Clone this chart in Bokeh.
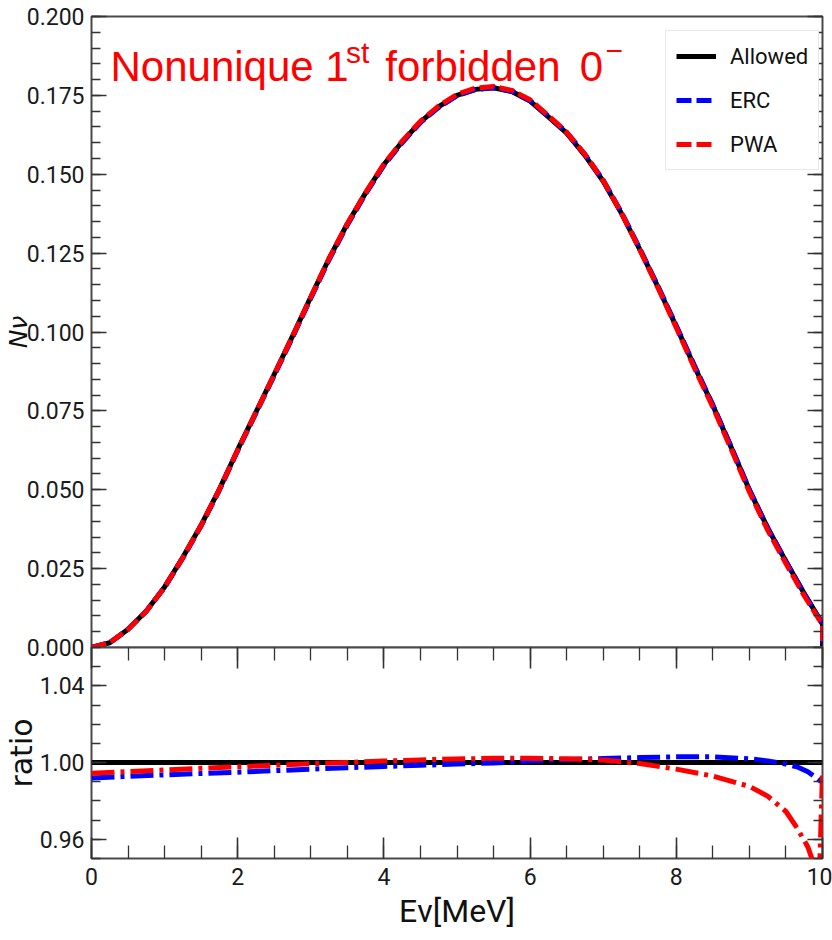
import numpy as np
from bokeh.plotting import figure
from bokeh.models import (Range1d, LinearAxis, FixedTicker, Legend, LegendItem,
                          Label, PrintfTickFormatter)
from bokeh.layouts import column
from bokeh.embed import file_html
from bokeh.resources import INLINE

# ---------------- data ----------------
energy = [0.0, 0.25, 0.5, 0.75, 1.0, 1.25, 1.5, 1.75, 2.0, 2.25, 2.5, 2.75,
          3.0, 3.25, 3.5, 3.75, 4.0, 4.25, 4.5, 4.75, 5.0, 5.25, 5.5, 5.75,
          6.0, 6.25, 6.5, 6.75, 7.0, 7.25, 7.5, 7.75, 8.0, 8.25, 8.5, 8.75,
          9.0, 9.25, 9.5, 9.75, 10.0, 10.0]
allowed = [0.0000, 0.0015, 0.0058, 0.0116, 0.0192, 0.0286, 0.0388, 0.0502,
           0.0627, 0.0746, 0.0866, 0.0987, 0.1111, 0.1233, 0.1343, 0.1441,
           0.1531, 0.1603, 0.1666, 0.1714, 0.1750, 0.1769, 0.1774, 0.1762,
           0.1732, 0.1682, 0.1630, 0.1560, 0.1478, 0.1376, 0.1262, 0.1142,
           0.1017, 0.0890, 0.0767, 0.0635, 0.0499, 0.0379, 0.0273, 0.0171,
           0.0075, 0.0]
erc = [0.0000, 0.0015, 0.0058, 0.0115, 0.0191, 0.0284, 0.0386, 0.0499,
       0.0624, 0.0743, 0.0862, 0.0983, 0.1107, 0.1229, 0.1339, 0.1438,
       0.1528, 0.1600, 0.1664, 0.1712, 0.1749, 0.1768, 0.1774, 0.1763,
       0.1733, 0.1684, 0.1633, 0.1563, 0.1481, 0.1379, 0.1265, 0.1145,
       0.1020, 0.0893, 0.0769, 0.0637, 0.0500, 0.0379, 0.0273, 0.0170,
       0.0074, 0.0]
pwa = [0.0000, 0.0015, 0.0058, 0.0115, 0.0191, 0.0285, 0.0387, 0.0501,
       0.0626, 0.0745, 0.0865, 0.0986, 0.1110, 0.1233, 0.1343, 0.1442,
       0.1532, 0.1605, 0.1668, 0.1717, 0.1753, 0.1773, 0.1778, 0.1766,
       0.1736, 0.1686, 0.1633, 0.1563, 0.1480, 0.1377, 0.1261, 0.1140,
       0.1014, 0.0885, 0.0762, 0.0629, 0.0493, 0.0372, 0.0266, 0.0164,
       0.0072, 0.0]

ratio_energy = [0.0, 0.5, 1.0, 1.5, 2.0, 2.5, 3.0, 3.5, 4.0, 4.5, 5.0, 5.5,
                6.0, 6.5, 7.0, 7.5, 8.0, 8.5, 9.0, 9.25, 9.5, 9.65, 9.8, 9.9,
                9.95, 10.0]
ratio_allowed = [1.0, 1.0, 1.0, 1.0, 1.0, 1.0, 1.0, 1.0, 1.0, 1.0, 1.0, 1.0,
                 1.0, 1.0, 1.0, 1.0, 1.0, 1.0, 1.0, 1.0, 1.0, 1.0, 1.0, 1.0,
                 1.0, 1.0]
ratio_erc = [0.9920, 0.9928, 0.9936, 0.9943, 0.9950, 0.9958, 0.9966, 0.9973,
             0.9980, 0.9986, 0.9992, 0.9998, 1.0008, 1.0016, 1.0021, 1.0026,
             1.0030, 1.0030, 1.0020, 1.0009, 0.9992, 0.9978, 0.9952, 0.9925,
             0.9910, 0.9895]
ratio_pwa = [0.9944, 0.9953, 0.9962, 0.9970, 0.9978, 0.9986, 0.9994, 1.0001,
             1.0008, 1.0014, 1.0019, 1.0022, 1.0023, 1.0020, 1.0013, 0.9995,
             0.9966, 0.9930, 0.9876, 0.9825, 0.9745, 0.9660, 0.9560, 0.9450,
             0.9300, 0.9950]

x_ticks = [0, 2, 4, 6, 8, 10]
top_y_ticks = [0.0, 0.025, 0.05, 0.075, 0.1, 0.125, 0.15, 0.175, 0.2]
bottom_y_ticks = [0.96, 1.00, 1.04]
series_labels = ["Allowed", "ERC", "PWA"]

# ---------------- style ----------------
TICK_FONT = "Roboto"
SPINE = "#4a4a4a"
TICKC = "#333333"
INK = "#111111"


def style_axis(ax, ticks, major_len, minor_len, show_labels, standoff=7):
    ax.axis_line_color = None
    ax.major_tick_in = major_len
    ax.major_tick_out = 0
    ax.minor_tick_in = minor_len
    ax.minor_tick_out = 0
    ax.major_tick_line_color = TICKC
    ax.major_tick_line_width = 1.6
    ax.minor_tick_line_color = TICKC
    ax.minor_tick_line_width = 1.3
    ax.major_label_text_font = TICK_FONT
    ax.major_label_text_color = "#1a1a1a"
    if show_labels:
        ax.major_label_text_font_size = "23px"
        ax.major_label_standoff = standoff
    else:
        ax.major_label_overrides = {float(t): "" for t in ticks}
        ax.major_label_text_font_size = "1px"
        ax.major_label_standoff = 0


x_minor = list(np.arange(0, 10.01, 0.5))
top_minor = list(np.arange(0, 0.2001, 0.005))
bot_minor = list(np.arange(0.95, 1.0601, 0.01))

# ---------------- top panel ----------------
p1 = figure(width=832, height=659, x_range=Range1d(0, 10), y_range=Range1d(0, 0.2),
            output_backend="svg", toolbar_location=None, x_axis_location=None,
            min_border_left=91, min_border_right=10, min_border_top=16,
            min_border_bottom=12)
p1.grid.visible = False
p1.outline_line_color = SPINE
p1.outline_line_width = 2
p1.background_fill_color = "white"
p1.border_fill_color = "white"

yl = p1.yaxis[0]
yl.ticker = FixedTicker(ticks=top_y_ticks, minor_ticks=top_minor)
yl.formatter = PrintfTickFormatter(format="%.3f")
style_axis(yl, top_y_ticks, 15, 9, True, 7)
yl.axis_label = "N\u03bd"
yl.axis_label_text_font = "DejaVu Sans"
yl.axis_label_text_font_style = "italic"
yl.axis_label_text_font_size = "25px"
yl.axis_label_text_color = INK
yl.axis_label_standoff = -9
yr = LinearAxis(ticker=FixedTicker(ticks=top_y_ticks, minor_ticks=top_minor))
style_axis(yr, top_y_ticks, 15, 9, False)
p1.add_layout(yr, "right")

r_a = p1.line(energy, allowed, line_color="black", line_width=5)
r_e = p1.line(energy, erc, line_color="#0000ff", line_width=5, line_dash="15 5")
r_p = p1.line(energy, pwa, line_color="#ff0000", line_width=5, line_dash="15 5")

legend = Legend(items=[LegendItem(label=series_labels[0], renderers=[r_a]),
                       LegendItem(label=series_labels[1], renderers=[r_e]),
                       LegendItem(label=series_labels[2], renderers=[r_p])],
                location=(574, 477), orientation="vertical")
legend.glyph_width = 40
legend.glyph_height = 30
legend.label_height = 30
legend.label_standoff = 14
legend.spacing = 14
legend.padding = 10
legend.margin = 0
legend.label_text_font = TICK_FONT
legend.label_text_font_size = "22px"
legend.label_text_color = INK
legend.border_line_color = "#d4d4d4"
legend.border_line_width = 1.5
legend.background_fill_color = "white"
legend.background_fill_alpha = 1.0
p1.add_layout(legend)

# title pieces
RED = "#ff0000"
TFONT = "Liberation Sans"
p1.add_layout(Label(x=0.26, y=0.1842, text="Nonunique 1", text_color=RED,
                    text_font=TFONT, text_font_size="42px",
                    text_align="left", text_baseline="alphabetic"))
p1.add_layout(Label(x=3.48, y=0.1885, text="st", text_color=RED,
                    text_font=TFONT, text_font_size="30px",
                    text_align="left", text_baseline="alphabetic"))
p1.add_layout(Label(x=4.02, y=0.1842, text="forbidden", text_color=RED,
                    text_font=TFONT, text_font_size="42px",
                    text_align="left", text_baseline="alphabetic"))
p1.add_layout(Label(x=6.68, y=0.1842, text="0", text_color=RED,
                    text_font=TFONT, text_font_size="42px",
                    text_align="left", text_baseline="alphabetic"))
p1.add_layout(Label(x=7.03, y=0.1892, text="\u2212", text_color=RED,
                    text_font=TFONT, text_font_size="30px",
                    text_align="left", text_baseline="alphabetic"))

# ---------------- bottom panel ----------------
p2 = figure(width=832, height=305, x_range=p1.x_range, y_range=Range1d(0.95, 1.06),
            output_backend="svg", toolbar_location=None,
            min_border_left=91, min_border_right=10, min_border_top=12,
            min_border_bottom=82, margin=(-24, 0, 0, 0))
p2.grid.visible = False
p2.outline_line_color = SPINE
p2.outline_line_width = 2
p2.background_fill_color = "white"
p2.border_fill_alpha = 0.0

xb = p2.xaxis[0]
xb.ticker = FixedTicker(ticks=x_ticks, minor_ticks=x_minor)
xb.formatter = PrintfTickFormatter(format="%d")
style_axis(xb, x_ticks, 21, 13, True, 9)
xb.axis_label = "E\u03bd[MeV]"
xb.axis_label_text_font = TICK_FONT
xb.axis_label_text_font_style = "normal"
xb.axis_label_text_font_size = "32px"
xb.axis_label_text_color = INK
xb.axis_label_standoff = 4
xt = LinearAxis(ticker=FixedTicker(ticks=x_ticks, minor_ticks=x_minor))
style_axis(xt, x_ticks, 21, 13, False)
p2.add_layout(xt, "above")

yl2 = p2.yaxis[0]
yl2.ticker = FixedTicker(ticks=bottom_y_ticks, minor_ticks=bot_minor)
yl2.formatter = PrintfTickFormatter(format="%.2f")
style_axis(yl2, bottom_y_ticks, 15, 9, True, 7)
yl2.axis_label = "ratio"
yl2.axis_label_text_font = "DejaVu Sans"
yl2.axis_label_text_font_style = "normal"
yl2.axis_label_text_font_size = "30px"
yl2.axis_label_text_color = INK
yl2.axis_label_standoff = -2
yr2 = LinearAxis(ticker=FixedTicker(ticks=bottom_y_ticks, minor_ticks=bot_minor))
style_axis(yr2, bottom_y_ticks, 15, 9, False)
p2.add_layout(yr2, "right")

p2.line(ratio_energy, ratio_allowed, line_color="black", line_width=5)
p2.line(ratio_energy, ratio_erc, line_color="#0000ff", line_width=5,
        line_dash="23 6 4 6")
p2.line(ratio_energy, ratio_pwa, line_color="#ff0000", line_width=5,
        line_dash="23 6 4 6")

layout = column(p1, p2, spacing=0)
open("out.html", "w").write(file_html(layout, INLINE))
